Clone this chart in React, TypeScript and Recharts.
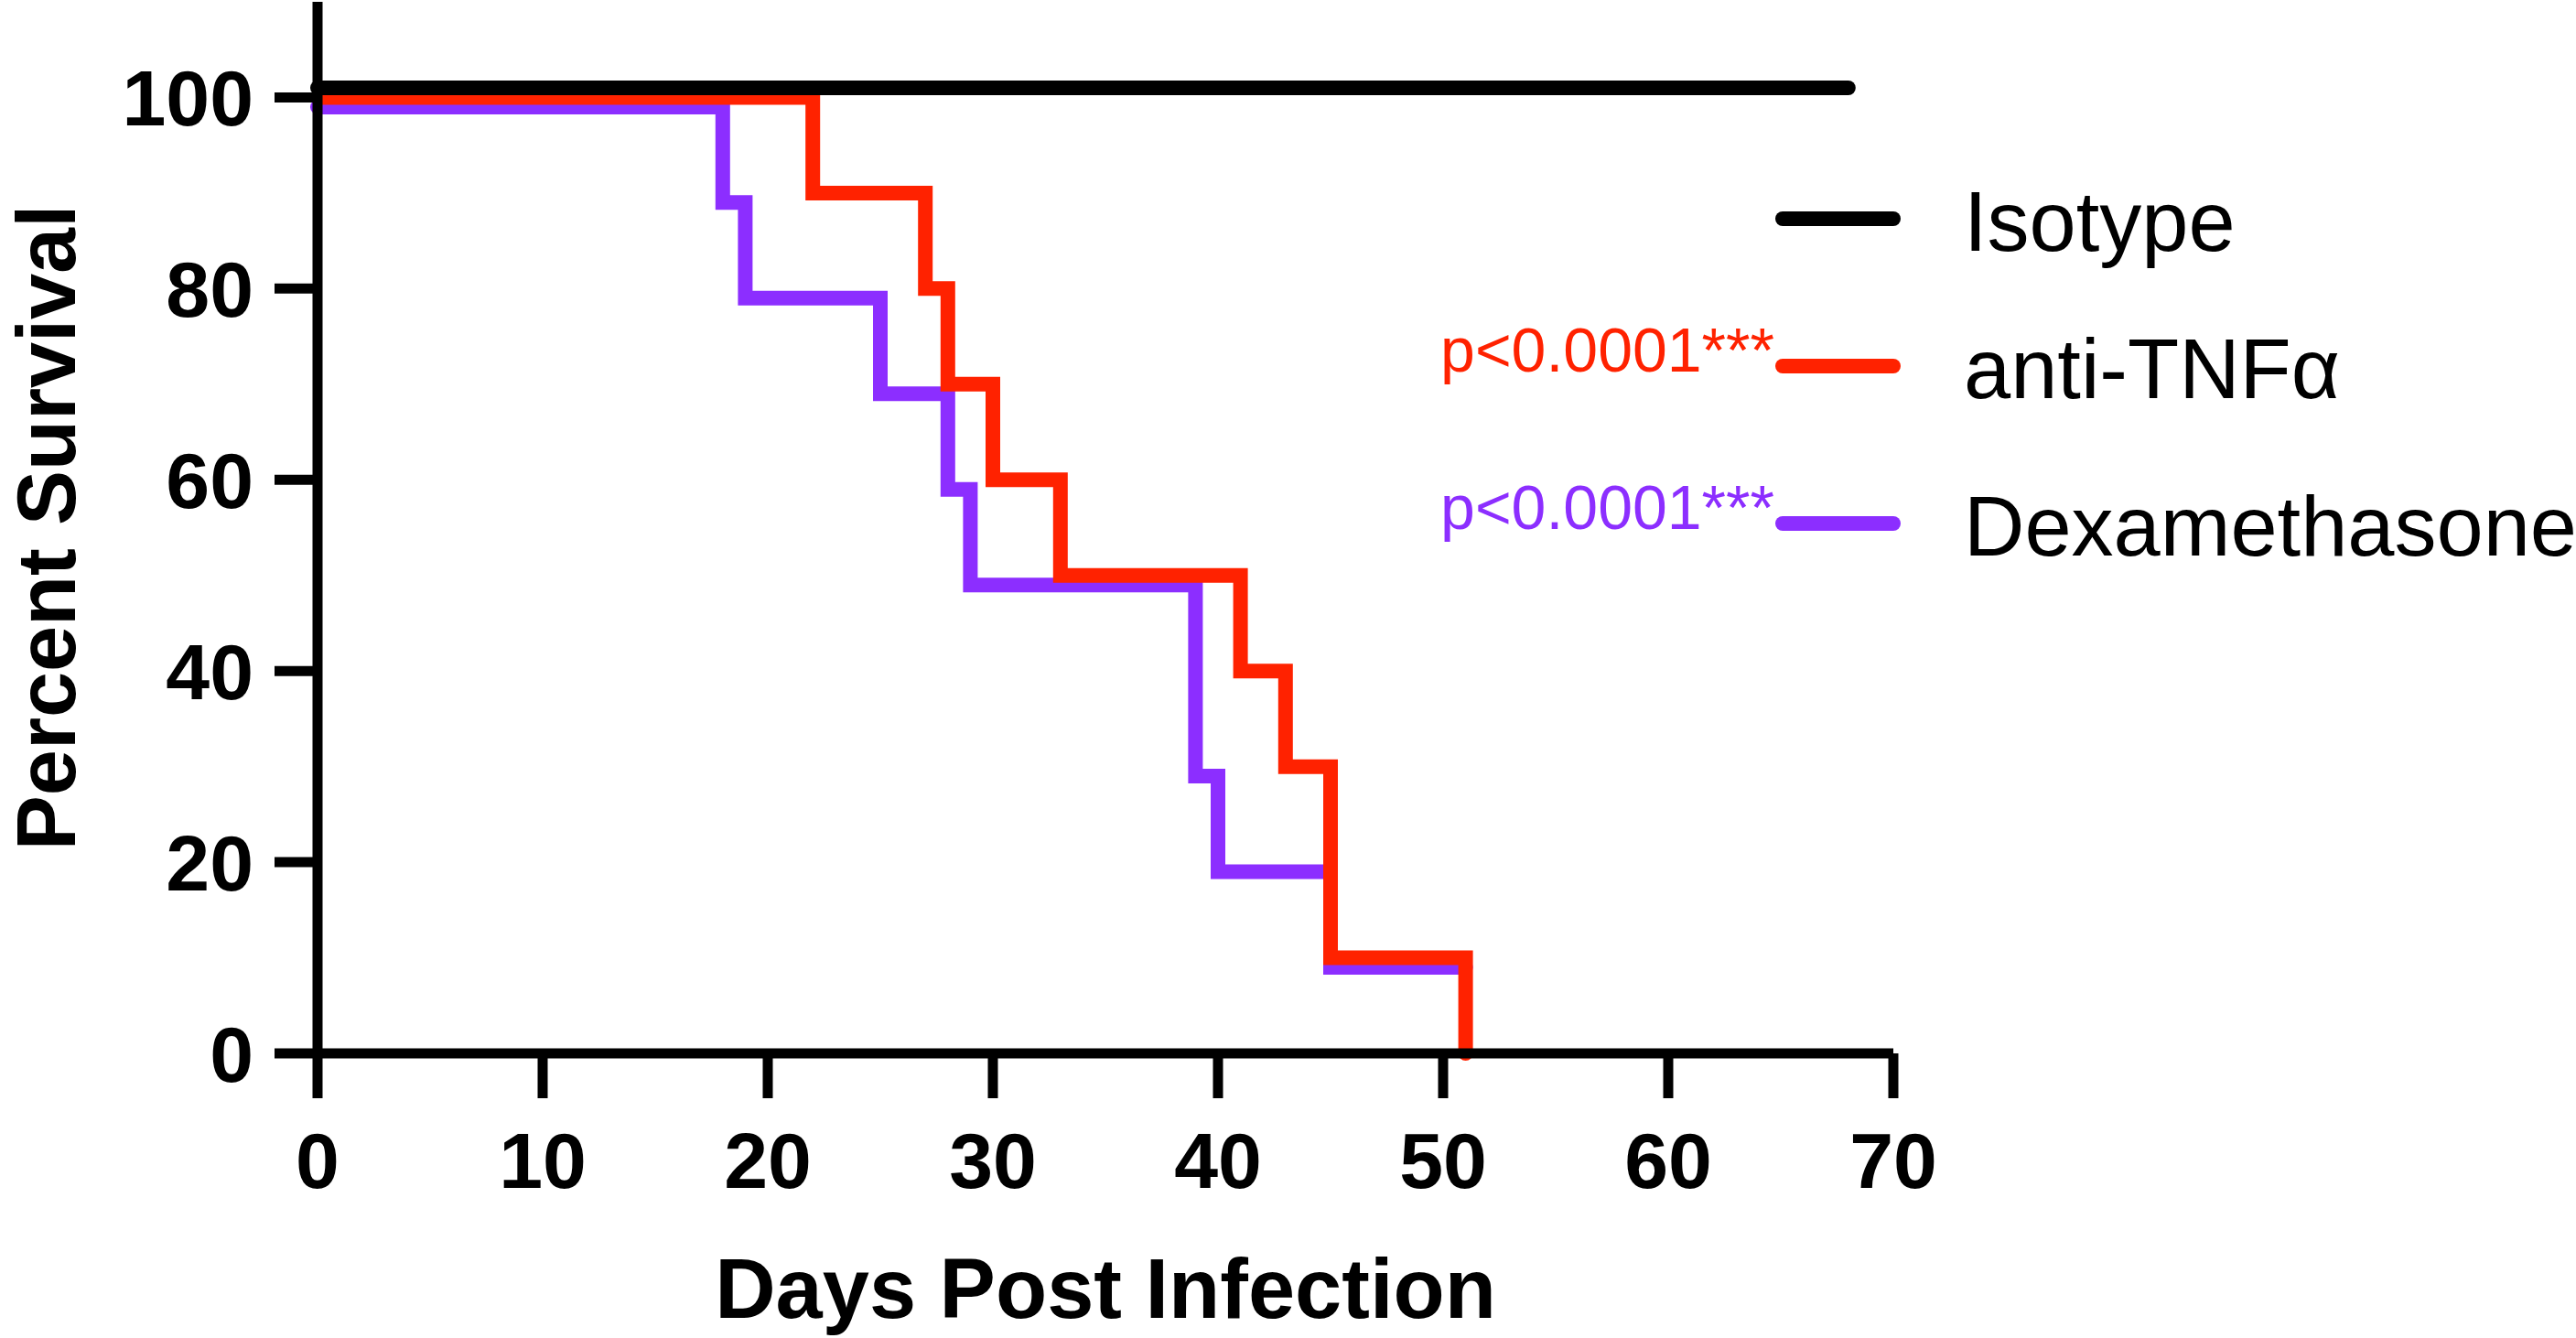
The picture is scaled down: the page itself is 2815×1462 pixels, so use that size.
import React from 'react';
import { LineChart, Line, XAxis, YAxis, Label } from 'recharts';

const FONT = '"Liberation Sans", Arial, Helvetica, sans-serif';

const X_TICKS = [0, 10, 20, 30, 40, 50, 60, 70];
const Y_TICKS = [0, 20, 40, 60, 80, 100];

// step points (day the curve changes, percent surviving from that day on)
const ISOTYPE_DAYS = [0, 68];
const ISOTYPE_PCT = [101, 101];

const TNF_DAYS = [0, 22, 27, 28, 30, 33, 41, 43, 45, 51];
const TNF_PCT = [100, 90, 80, 70, 60, 50, 40, 30, 10, 0];

const DEX_DAYS = [0, 18, 19, 25, 28, 29, 39, 40, 45, 51];
const DEX_PCT = [99, 89, 79, 69, 59, 49, 29, 19, 9, 9];

const toRows = (days: number[], pct: number[]) =>
  days.map((day, i) => ({ day, pct: pct[i] }));

const SERIES = [
  { name: 'Isotype', color: '#000000', pValue: '', data: toRows(ISOTYPE_DAYS, ISOTYPE_PCT) },
  { name: 'anti-TNFα', color: '#FF2200', pValue: 'p<0.0001***', data: toRows(TNF_DAYS, TNF_PCT) },
  { name: 'Dexamethasone', color: '#8C2EFF', pValue: 'p<0.0001***', data: toRows(DEX_DAYS, DEX_PCT) },
];

const W = 2815;
const H = 1462;
const AXIS_W = 11;
const LINE_W = 16;

const tickStyle = { fill: '#000', fontSize: 86, fontWeight: 'bold', fontFamily: FONT };

const YTitle = (props: any) => {
  const vb = props.viewBox;
  const cx = vb.x + 50;
  const cy = vb.y + vb.height / 2;
  return (
    <text
      x={cx}
      y={cy}
      dy="0.355em"
      textAnchor="middle"
      transform={`rotate(-90, ${cx}, ${cy})`}
      style={{ fontSize: 90, fontWeight: 'bold', fontFamily: FONT, fill: '#000' }}
    >
      Percent Survival
    </text>
  );
};

const XTitle = (props: any) => {
  const vb = props.viewBox;
  return (
    <text
      x={vb.x + vb.width / 2}
      y={vb.y + 289}
      textAnchor="middle"
      style={{ fontSize: 92, fontWeight: 'bold', fontFamily: FONT, fill: '#000' }}
    >
      Days Post Infection
    </text>
  );
};

const LEGEND_LINE_Y = [239, 400, 572];

const LegendOverlay = () => (
  <svg
    width={W}
    height={H}
    style={{ position: 'absolute', left: 0, top: 0, pointerEvents: 'none' }}
  >
    {SERIES.map((s, i) => {
      const y = LEGEND_LINE_Y[i];
      return (
        <g key={s.name}>
          <line
            x1={1948}
            x2={2069}
            y1={y}
            y2={y}
            stroke={s.color}
            strokeWidth={16}
            strokeLinecap="round"
          />
          <text
            x={2146}
            y={y + 35}
            style={{ fontSize: 92, fontFamily: FONT, fill: '#000' }}
          >
            {s.name}
          </text>
          {s.pValue && (
            <text
              x={1939}
              y={y + 6}
              textAnchor="end"
              style={{ fontSize: 68, fontFamily: FONT, fill: s.color }}
            >
              {s.pValue}
            </text>
          )}
        </g>
      );
    })}
  </svg>
);

const App: React.FC = () => {
  // draw purple first, black last, like the original
  const drawOrder = [...SERIES].reverse();

  return (
    <div style={{ position: 'absolute', left: 0, top: 0, width: W, height: H, background: '#fff' }}>
      <LineChart width={W} height={H} margin={{ top: 2, right: 746, bottom: 0, left: 0 }}>
        <XAxis
          type="number"
          dataKey="day"
          domain={[0, 70]}
          ticks={X_TICKS}
          interval={0}
          height={311}
          tickSize={49}
          tickMargin={37}
          axisLine={{ stroke: '#000', strokeWidth: AXIS_W }}
          tickLine={{ stroke: '#000', strokeWidth: AXIS_W }}
          tick={tickStyle}
        >
          <Label content={XTitle} />
        </XAxis>
        <YAxis
          type="number"
          domain={[0, 110]}
          ticks={Y_TICKS}
          interval={0}
          width={347}
          tickSize={47}
          tickMargin={23}
          axisLine={{ stroke: '#000', strokeWidth: AXIS_W }}
          tickLine={{ stroke: '#000', strokeWidth: AXIS_W }}
          tick={tickStyle}
        >
          <Label content={YTitle} />
        </YAxis>
        {drawOrder.map((s) => (
          <Line
            key={s.name}
            data={s.data}
            dataKey="pct"
            name={s.name}
            type="stepAfter"
            stroke={s.color}
            strokeWidth={LINE_W}
            strokeLinecap="round"
            strokeLinejoin="miter"
            dot={false}
            activeDot={false}
            isAnimationActive={false}
          />
        ))}
      </LineChart>
      <LegendOverlay />
    </div>
  );
};

export default App;
